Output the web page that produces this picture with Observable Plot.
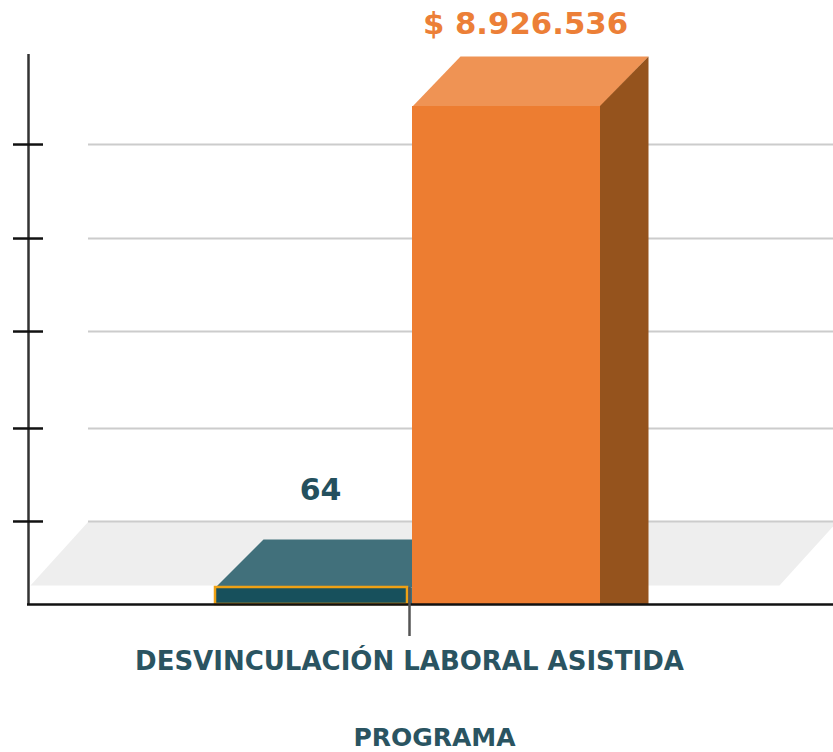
<!DOCTYPE html>
<html>
<head>
<meta charset="utf-8">
<script src="https://cdn.jsdelivr.net/npm/d3@7"></script>
<script src="https://cdn.jsdelivr.net/npm/@observablehq/plot@0.6"></script>
<style>
html,body{margin:0;padding:0;background:#fff;overflow:hidden}
svg{display:block}
</style>
</head>
<body>
<div id="chart"></div>
<script>
// Data
const categories = ["DESVINCULACIÓN LABORAL ASISTIDA"];
const participants = [64];
const amounts = [8926536];
const amountLabels = ["$ 8.926.536"];
const axisTitle = "PROGRAMA";
const gridValues = [1488000, 3155000, 4893000, 6560000, 8245000];

// Scale set-up: one y scale in pesos, participants on a secondary ratio
const width = 833, height = 752;
const pesosPerPixel = amounts[0] / 498;
const pesosPerParticipant = pesosPerPixel * 17 / participants[0];
const Y = px => px * pesosPerPixel;
const baselinePx = 604;

// Column geometry in x-scale units
const tealX = [215, 407], orangeX = [412, 600];
const barDepth = {x: 48, y: Y(50)};
const tealDepthY = Y(48);
const floor = {x1: 30, x2: 779, y: Y(19), dx: 58, dy: Y(64)};
const axisLeft = 28, gridLeft = 88, catTick = 409;

const tealTop = participants[0] * pesosPerParticipant;
const orangeTop = amounts[0];

const poly = (pts, fill) => Plot.line(pts, {x: "x", y: "y", fill, stroke: "none", clip: true});

const chart = Plot.plot({
  width, height,
  marginTop: 0, marginRight: 0, marginBottom: 0, marginLeft: 0,
  x: {type: "linear", domain: [0, width], range: [0, width], axis: null},
  y: {type: "linear", domain: [Y(baselinePx - height), Y(baselinePx)], range: [height, 0], axis: null},
  style: {background: "#fff", fontFamily: "'DejaVu Sans', sans-serif"},
  marks: [
    // floor
    poly([
      {x: floor.x1, y: floor.y}, {x: floor.x2, y: floor.y},
      {x: floor.x2 + floor.dx, y: floor.y + floor.dy}, {x: floor.x1 + floor.dx, y: floor.y + floor.dy}
    ], "#eeeeee"),
    // back-wall grid
    Plot.ruleY(gridValues, {x1: gridLeft, x2: width, stroke: "#cccccc", strokeWidth: 2}),
    // teal column
    poly([
      {x: tealX[0], y: tealTop}, {x: orangeX[0], y: tealTop},
      {x: orangeX[0], y: tealTop + tealDepthY}, {x: tealX[0] + barDepth.x, y: tealTop + tealDepthY}
    ], "#41707b"),
    poly([
      {x: tealX[1], y: 0}, {x: orangeX[0], y: 0},
      {x: orangeX[0], y: tealTop}, {x: tealX[1], y: tealTop}
    ], "#41707b"),
    Plot.rect(participants, {
      x1: tealX[0], x2: tealX[1], y1: 0, y2: d => d * pesosPerParticipant,
      fill: "#17505c", stroke: "#efa114", strokeWidth: 2.5
    }),
    // orange column
    poly([
      {x: orangeX[0], y: orangeTop}, {x: orangeX[1], y: orangeTop},
      {x: orangeX[1] + barDepth.x, y: orangeTop + barDepth.y}, {x: orangeX[0] + barDepth.x, y: orangeTop + barDepth.y}
    ], "#ef9354"),
    poly([
      {x: orangeX[1] - 1, y: 0}, {x: orangeX[1] + barDepth.x, y: 0},
      {x: orangeX[1] + barDepth.x, y: orangeTop + barDepth.y}, {x: orangeX[1] - 1, y: orangeTop}
    ], "#95531d"),
    Plot.rect(amounts, {x1: orangeX[0], x2: orangeX[1], y1: 0, y2: d => d, fill: "#ed7d31"}),
    // axes
    Plot.ruleX([axisLeft], {y1: 0, y2: Y(550), stroke: "#333", strokeWidth: 2.5}),
    Plot.ruleY([0], {x1: axisLeft - 1, x2: width, stroke: "#111", strokeWidth: 2.5}),
    Plot.ruleY(gridValues, {x1: 13, x2: 43, stroke: "#111", strokeWidth: 2.5}),
    Plot.ruleX([catTick], {y1: tealTop, y2: Y(-32), stroke: "#555", strokeWidth: 2.5}),
    // value labels
    Plot.text(participants, {
      x: 320, y: d => d * pesosPerParticipant, text: d => String(d), dy: -97,
      fill: "#24505e", fontSize: 30, fontWeight: 700, textAnchor: "middle"
    }),
    Plot.text(amounts, {
      x: 525, y: d => d, text: (d, i) => amountLabels[i], dy: -82,
      fill: "#ec7f37", fontSize: 30.75, fontWeight: 700, textAnchor: "middle"
    }),
    // category and axis title
    Plot.text(categories, {
      x: catTick, y: 0, text: d => d, dy: 57,
      fill: "#2a5461", fontSize: 26, fontWeight: 700, textAnchor: "middle"
    }),
    Plot.text([axisTitle], {
      x: 434, y: 0, text: d => d, dy: 133,
      fill: "#2a5461", fontSize: 25, fontWeight: 700, textAnchor: "middle"
    })
  ]
});
document.getElementById("chart").append(chart);
</script>
</body>
</html>
